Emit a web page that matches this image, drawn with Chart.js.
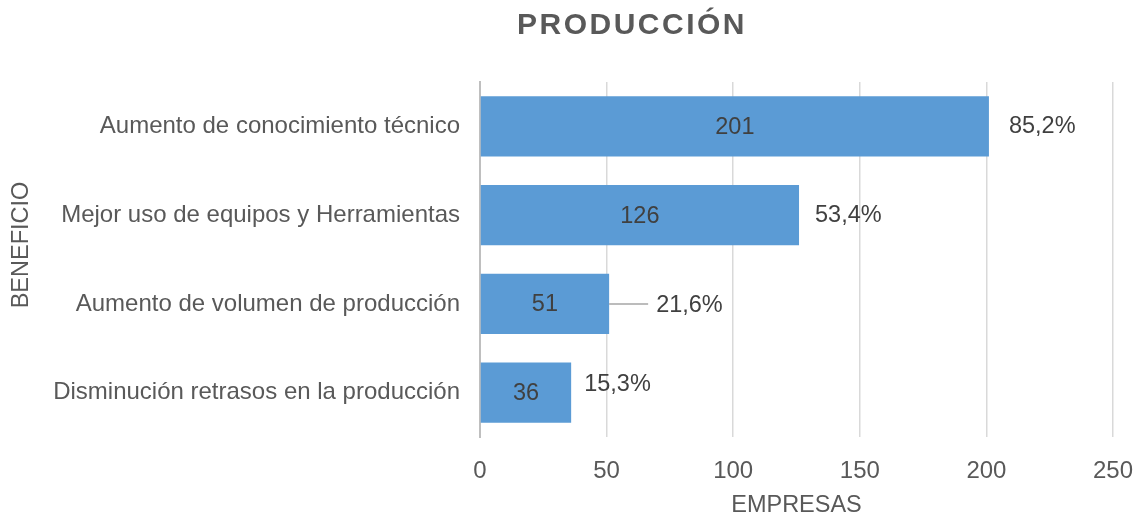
<!DOCTYPE html>
<html>
<head>
<meta charset="utf-8">
<script src="https://cdn.jsdelivr.net/npm/chart.js@4/dist/chart.umd.min.js"></script>
<style>
html,body{margin:0;padding:0;background:#fff;}
#wrap{width:1138px;height:517px;position:relative;}
</style>
</head>
<body>
<div id="wrap"><canvas id="c" width="1138" height="517"></canvas></div>
<script>
const chartTitle = "PRODUCCIÓN";
const yAxisTitle = "BENEFICIO";
const xAxisTitle = "EMPRESAS";
const categories = [
  "Aumento de conocimiento técnico",
  "Mejor uso de equipos y Herramientas",
  "Aumento de volumen de producción",
  "Disminución retrasos en la producción"
];
const empresas = [201, 126, 51, 36];
const porcentajes = [85.2, 53.4, 21.6, 15.3];
const xTicks = [0, 50, 100, 150, 200, 250];

// label placement styles (offsets from the bar end, in px)
const pctOffsetX = [20, 16, 47, 13];
const pctOffsetY = [0, 0, 2, -8];
const leaderLine = [false, false, true, false];

const FONT = "'Liberation Sans', Arial, sans-serif";

const titlePlugin = {
  id: 'customTitle',
  afterDraw(chart) {
    const ctx = chart.ctx;
    ctx.save();
    ctx.font = 'bold 30px ' + FONT;
    if ('letterSpacing' in ctx) ctx.letterSpacing = '2.5px';
    ctx.fillStyle = '#595959';
    ctx.textAlign = 'center';
    ctx.textBaseline = 'middle';
    ctx.fillText(chartTitle, 632, 26);
    ctx.restore();
    // y axis title
    ctx.save();
    ctx.font = '23.5px ' + FONT;
    ctx.fillStyle = '#595959';
    ctx.textAlign = 'center';
    ctx.textBaseline = 'middle';
    ctx.translate(22, 245);
    ctx.rotate(-Math.PI / 2);
    ctx.fillText(yAxisTitle, 0, 0);
    ctx.restore();
  }
};

const labelPlugin = {
  id: 'labels',
  afterDatasetsDraw(chart) {
    const ctx = chart.ctx;
    const meta = chart.getDatasetMeta(0);
    ctx.save();
    ctx.font = '23.5px ' + FONT;
    ctx.fillStyle = '#404040';
    ctx.textBaseline = 'middle';
    meta.data.forEach((bar, i) => {
      const p = bar.getProps(['x', 'y', 'base'], true);
      ctx.textAlign = 'center';
      ctx.fillText(String(empresas[i]), (p.x + p.base) / 2, p.y + 1);
      const txt = porcentajes[i].toFixed(1).replace('.', ',') + '%';
      const lx = p.x + pctOffsetX[i];
      const ly = p.y + pctOffsetY[i];
      if (leaderLine[i]) {
        ctx.strokeStyle = '#a6a6a6';
        ctx.lineWidth = 1.5;
        ctx.beginPath();
        ctx.moveTo(p.x, p.y);
        ctx.lineTo(lx - 8, p.y);
        ctx.stroke();
      }
      ctx.textAlign = 'left';
      ctx.fillText(txt, lx, ly);
    });
    ctx.restore();
  }
};

new Chart(document.getElementById('c'), {
  type: 'bar',
  data: {
    labels: categories,
    datasets: [{
      data: empresas,
      backgroundColor: '#5B9BD5',
      barPercentage: 0.68,
      categoryPercentage: 1.0
    }]
  },
  options: {
    indexAxis: 'y',
    responsive: false,
    animation: false,
    layout: { padding: { left: 0, right: 25, top: 82, bottom: 0 } },
    plugins: {
      legend: { display: false },
      tooltip: { enabled: false },
      title: { display: false }
    },
    scales: {
      x: {
        min: 0,
        max: 250,
        afterBuildTicks(scale) { scale.ticks = xTicks.map(v => ({ value: v })); },
        afterFit(scale) { scale.height = 80; scale.paddingRight = 0; scale.paddingLeft = 0; },
        ticks: { color: '#595959', font: { family: FONT, size: 24 }, padding: 20 },
        grid: { color: '#d9d9d9', lineWidth: 1.5, drawTicks: false },
        border: { display: false },
        title: {
          display: true, text: xAxisTitle, color: '#595959',
          font: { family: FONT, size: 23.5 }, padding: { top: 0, bottom: -3 }
        }
      },
      y: {
        afterFit(scale) { scale.width = 480; },
        ticks: { color: '#595959', font: { family: FONT, size: 24 }, padding: 20 },
        grid: { display: false, drawTicks: false },
        border: { display: true, color: '#bfbfbf', width: 2 },
        title: { display: false }
      }
    }
  },
  plugins: [labelPlugin, titlePlugin]
});
</script>
</body>
</html>
